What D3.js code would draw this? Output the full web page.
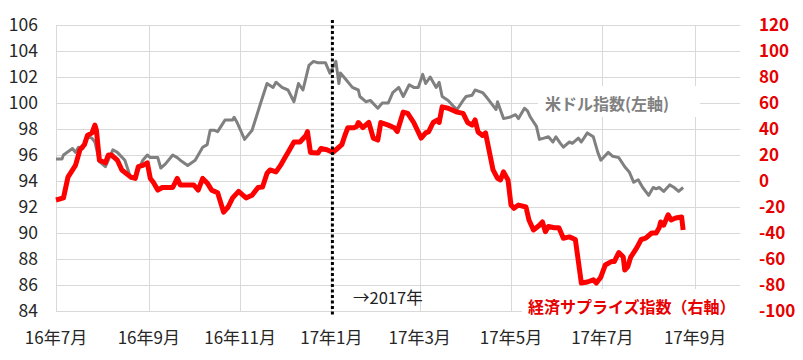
<!DOCTYPE html>
<html>
<head>
<meta charset="utf-8">
<script src="https://cdn.jsdelivr.net/npm/d3@7"></script>
<style>
  body { margin: 0; background: #fff; }
  svg { display: block; font-family: 'Noto Sans CJK JP', 'Noto Sans', sans-serif; }
</style>
</head>
<body>
<div id="chart"></div>
<script>
// US dollar index (left axis)
const usdDates = [
  '2016-07-01', '2016-07-05', '2016-07-06', '2016-07-12', '2016-07-14', '2016-07-16', '2016-07-19',
  '2016-07-22', '2016-07-25', '2016-07-27', '2016-07-30', '2016-08-03', '2016-08-08', '2016-08-11',
  '2016-08-16', '2016-08-20', '2016-08-23', '2016-08-28', '2016-08-31', '2016-09-02', '2016-09-07',
  '2016-09-09', '2016-09-12', '2016-09-17', '2016-09-20', '2016-09-22', '2016-09-27', '2016-10-02',
  '2016-10-07', '2016-10-10', '2016-10-12', '2016-10-15', '2016-10-17', '2016-10-22', '2016-10-27',
  '2016-10-28', '2016-10-30', '2016-11-04', '2016-11-09', '2016-11-15', '2016-11-19', '2016-11-23',
  '2016-11-25', '2016-11-29', '2016-12-03', '2016-12-07', '2016-12-10', '2016-12-13', '2016-12-17',
  '2016-12-20', '2016-12-23', '2016-12-28', '2016-12-31', '2017-01-04', '2017-01-06', '2017-01-07',
  '2017-01-10', '2017-01-15', '2017-01-19', '2017-01-20', '2017-01-24', '2017-01-27', '2017-02-01',
  '2017-02-04', '2017-02-08', '2017-02-11', '2017-02-15', '2017-02-18', '2017-02-22', '2017-02-25',
  '2017-02-28', '2017-03-03', '2017-03-05', '2017-03-08', '2017-03-12', '2017-03-14', '2017-03-16',
  '2017-03-20', '2017-03-24', '2017-03-26', '2017-03-30', '2017-04-01', '2017-04-05', '2017-04-07',
  '2017-04-12', '2017-04-15', '2017-04-19', '2017-04-21', '2017-04-22', '2017-04-26', '2017-04-30',
  '2017-05-04', '2017-05-06', '2017-05-10', '2017-05-12', '2017-05-14', '2017-05-18', '2017-05-20',
  '2017-05-23', '2017-05-26', '2017-05-29', '2017-05-31', '2017-06-03', '2017-06-05', '2017-06-09',
  '2017-06-11', '2017-06-15', '2017-06-17', '2017-06-21', '2017-06-25', '2017-06-28', '2017-06-30',
  '2017-07-05', '2017-07-08', '2017-07-12', '2017-07-16', '2017-07-19', '2017-07-22', '2017-07-25',
  '2017-07-28', '2017-08-01', '2017-08-04', '2017-08-06', '2017-08-08', '2017-08-11', '2017-08-15',
  '2017-08-18', '2017-08-21', '2017-08-24',
];
const usdValues = [
  95.7, 95.7, 96.0, 96.5, 96.2, 96.6, 96.5,
  97.4, 97.3, 97.0, 95.5, 95.1, 96.4, 96.2,
  95.6, 94.2, 94.3, 95.6, 96.0, 95.8, 95.8,
  95.0, 95.3, 96.0, 95.8, 95.6, 95.2, 95.6,
  96.6, 96.8, 97.9, 97.9, 97.8, 98.7, 98.7,
  98.9, 98.5, 97.2, 97.9, 100.1, 101.5, 101.2,
  101.6, 101.2, 101.0, 100.1, 101.5, 101.0, 102.9,
  103.2, 103.1, 103.1, 102.3, 103.2, 101.5, 102.3,
  101.9, 101.2, 101.0, 100.5, 100.1, 100.2, 99.6,
  100.0, 100.0, 100.8, 101.2, 100.5, 101.4, 101.2,
  101.2, 102.2, 101.5, 102.0, 101.2, 101.6, 100.5,
  100.2, 99.7, 99.5, 100.2, 100.5, 100.6, 101.0,
  100.8, 100.4, 99.8, 99.5, 100.1, 98.8, 98.9,
  99.1, 98.8, 99.6, 99.4, 98.9, 98.2, 97.2,
  97.3, 97.4, 97.0, 97.4, 96.9, 96.6, 97.0,
  96.9, 97.3, 97.0, 97.7, 97.4, 96.2, 95.6,
  96.2, 95.9, 95.8, 95.1, 94.7, 93.9, 94.1,
  93.5, 92.9, 93.5, 93.4, 93.5, 93.2, 93.7,
  93.5, 93.2, 93.5,
];

// Economic surprise index (right axis)
const surpriseDates = [
  '2016-07-01', '2016-07-06', '2016-07-09', '2016-07-14', '2016-07-15', '2016-07-17', '2016-07-20',
  '2016-07-22', '2016-07-25', '2016-07-27', '2016-07-28', '2016-07-30', '2016-08-03', '2016-08-05',
  '2016-08-07', '2016-08-11', '2016-08-14', '2016-08-20', '2016-08-23', '2016-08-25', '2016-08-28',
  '2016-08-31', '2016-09-02', '2016-09-04', '2016-09-07', '2016-09-10', '2016-09-14', '2016-09-17',
  '2016-09-20', '2016-09-22', '2016-09-27', '2016-10-01', '2016-10-04', '2016-10-07', '2016-10-10',
  '2016-10-13', '2016-10-17', '2016-10-21', '2016-10-24', '2016-10-27', '2016-10-31', '2016-11-05',
  '2016-11-09', '2016-11-13', '2016-11-16', '2016-11-19', '2016-11-21', '2016-11-25', '2016-11-28',
  '2016-12-01', '2016-12-03', '2016-12-07', '2016-12-11', '2016-12-15', '2016-12-16', '2016-12-18',
  '2016-12-23', '2016-12-25', '2016-12-29', '2017-01-02', '2017-01-05', '2017-01-08', '2017-01-10',
  '2017-01-12', '2017-01-16', '2017-01-18', '2017-01-19', '2017-01-22', '2017-01-26', '2017-01-29',
  '2017-02-01', '2017-02-03', '2017-02-08', '2017-02-12', '2017-02-14', '2017-02-18', '2017-02-21',
  '2017-02-25', '2017-03-02', '2017-03-05', '2017-03-07', '2017-03-10', '2017-03-13', '2017-03-14',
  '2017-03-16', '2017-03-20', '2017-03-26', '2017-03-30', '2017-04-02', '2017-04-05', '2017-04-07',
  '2017-04-09', '2017-04-12', '2017-04-14', '2017-04-19', '2017-04-22', '2017-04-24', '2017-04-26',
  '2017-04-29', '2017-05-01', '2017-05-03', '2017-05-06', '2017-05-11', '2017-05-13', '2017-05-16',
  '2017-05-20', '2017-05-22', '2017-05-24', '2017-05-26', '2017-05-30', '2017-06-02', '2017-06-05',
  '2017-06-09', '2017-06-13', '2017-06-17', '2017-06-21', '2017-06-25', '2017-06-27', '2017-06-30',
  '2017-07-03', '2017-07-07', '2017-07-09', '2017-07-12', '2017-07-15', '2017-07-16', '2017-07-18',
  '2017-07-20', '2017-07-24', '2017-07-27', '2017-07-30', '2017-08-03', '2017-08-06', '2017-08-08',
  '2017-08-09', '2017-08-11', '2017-08-14', '2017-08-16', '2017-08-19', '2017-08-23', '2017-08-24',
];
const surpriseValues = [
  -14.6, -13, 3, 12, 16, 24, 28,
  35, 37, 43, 39, 16, 14, 20,
  20, 16, 8.5, 3, 2, 11, 12,
  14, 2, -1, -7, -5, -5, -5,
  2, -3, -3, -3, -7, 2, -1.5,
  -7, -9, -24, -20, -13, -8, -13,
  -11, -5, -4.6, 6, 8.5, 7, 12,
  18, 22, 30, 30, 35, 38, 22,
  21.5, 25, 24, 22, 25, 28, 35,
  41, 41, 42, 45, 41, 45, 33,
  31.5, 45, 43, 41, 38, 53, 52,
  45, 33, 37, 38, 45, 47, 45,
  57, 56, 53, 52, 45, 43, 47,
  37.7, 35, 37, 8.5, 2, 0.8, 7,
  0.8, -18.5, -21, -18.5, -20, -30, -37.7,
  -34, -31.5, -39, -35, -36, -36, -44,
  -43, -45, -78.5, -77.7, -76, -78.5, -74,
  -64.6, -62, -62, -55, -58.5, -68.5, -66,
  -58.5, -51.5, -45, -44, -40, -40, -36,
  -31.5, -34, -26, -30, -28.5, -27.7, -37.7,
];

// Axis ticks
const leftTicks = [84, 86, 88, 90, 92, 94, 96, 98, 100, 102, 104, 106];
const rightTicks = [-100, -80, -60, -40, -20, 0, 20, 40, 60, 80, 100, 120];
const monthTicks = ['2016-07-01', '2016-09-01', '2016-11-01', '2017-01-01', '2017-03-01', '2017-05-01', '2017-07-01', '2017-09-01'];
const monthLabels = ['16年7月', '16年9月', '16年11月', '17年1月', '17年3月', '17年5月', '17年7月', '17年9月'];

const parse = d3.timeParse('%Y-%m-%d');

const size = { width: 803, height: 360 };
const margin = { top: 25, right: 63, bottom: 49, left: 56 };

const svg = d3
  .select('#chart')
  .append('svg')
  .attr('width', size.width)
  .attr('height', size.height);

/*
   Scales
 */
const x = d3
  .scaleTime()
  .domain([parse('2016-07-01'), parse('2017-10-01')])
  .range([margin.left, size.width - margin.right]);

const yLeft = d3
  .scaleLinear()
  .domain([84, 106])
  .range([size.height - margin.bottom, margin.top]);

const yRight = d3
  .scaleLinear()
  .domain([-100, 120])
  .range([size.height - margin.bottom, margin.top]);

/*
   Grid
 */
const grid = svg.append('g').attr('stroke', '#d9d9d9').attr('stroke-width', 1);

leftTicks.forEach((v) => {
  grid
    .append('line')
    .attr('x1', margin.left)
    .attr('x2', size.width - margin.right)
    .attr('y1', Math.round(yLeft(v)) + 0.5)
    .attr('y2', Math.round(yLeft(v)) + 0.5);
});

monthTicks.forEach((d) => {
  grid
    .append('line')
    .attr('x1', Math.round(x(parse(d))) + 0.5)
    .attr('x2', Math.round(x(parse(d))) + 0.5)
    .attr('y1', margin.top)
    .attr('y2', size.height - margin.bottom);
});

// Axis labels
svg
  .append('g')
  .selectAll('text')
  .data(leftTicks)
  .enter()
  .append('text')
  .text((d) => d)
  .attr('x', 38)
  .attr('y', (d) => yLeft(d))
  .attr('dy', '0.36em')
  .attr('text-anchor', 'end')
  .attr('font-size', '17.5px')
  .attr('fill', '#262626');

svg
  .append('g')
  .selectAll('text')
  .data(rightTicks)
  .enter()
  .append('text')
  .text((d) => d)
  .attr('x', 759)
  .attr('y', (d) => yRight(d))
  .attr('dy', '0.36em')
  .attr('font-size', '17px')
  .attr('font-weight', 'bold')
  .attr('fill', '#e60000');

svg
  .append('g')
  .selectAll('text')
  .data(monthTicks)
  .enter()
  .append('text')
  .text((d, i) => monthLabels[i])
  .attr('x', (d) => x(parse(d)))
  .attr('y', 338)
  .attr('dy', '0.36em')
  .attr('text-anchor', 'middle')
  .attr('font-size', '17px')
  .attr('fill', '#262626');

/*
   Lines
 */
const usd = usdDates.map((d, i) => ({ date: parse(d), value: usdValues[i] }));
const surprise = surpriseDates.map((d, i) => ({ date: parse(d), value: surpriseValues[i] }));

svg
  .append('path')
  .datum(usd)
  .attr('d', d3.line().x((d) => x(d.date)).y((d) => yLeft(d.value)))
  .attr('fill', 'none')
  .attr('stroke', '#808080')
  .attr('stroke-width', 3)
  .attr('stroke-linejoin', 'round');

svg
  .append('path')
  .datum(surprise)
  .attr('d', d3.line().x((d) => x(d.date)).y((d) => yRight(d.value)))
  .attr('fill', 'none')
  .attr('stroke', '#ff0000')
  .attr('stroke-width', 5)
  .attr('stroke-linejoin', 'round');

// 2017 marker
const x2017 = x(parse('2017-01-01')) + 1;
svg
  .append('line')
  .attr('x1', x2017)
  .attr('x2', x2017)
  .attr('y1', 20)
  .attr('y2', 317)
  .attr('stroke', '#000')
  .attr('stroke-width', 3)
  .attr('stroke-dasharray', '3,2.5');

svg
  .append('text')
  .text('→2017年')
  .attr('x', 353)
  .attr('y', 298)
  .attr('dy', '0.36em')
  .attr('font-size', '16.5px')
  .attr('fill', '#222');

/*
   Series labels (white boxes like the spreadsheet)
 */
svg
  .append('rect')
  .attr('x', 538)
  .attr('y', 86)
  .attr('width', 162)
  .attr('height', 31)
  .attr('fill', '#fff');

svg
  .append('text')
  .text('米ドル指数(左軸)')
  .attr('x', 545)
  .attr('y', 104)
  .attr('dy', '0.36em')
  .attr('font-size', '16px')
  .attr('font-weight', 'bold')
  .attr('fill', '#808080');

svg
  .append('rect')
  .attr('x', 522)
  .attr('y', 289)
  .attr('width', 224)
  .attr('height', 34)
  .attr('fill', '#fff');

svg
  .append('text')
  .text('経済サプライズ指数（右軸）')
  .attr('x', 528)
  .attr('y', 307)
  .attr('dy', '0.36em')
  .attr('font-size', '16px')
  .attr('font-weight', 'bold')
  .attr('fill', '#e60000');
</script>
</body>
</html>
